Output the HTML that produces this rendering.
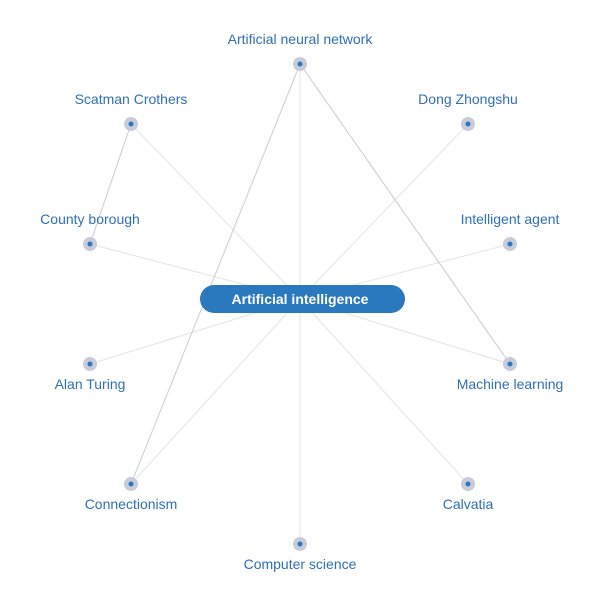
<!DOCTYPE html>
<html><head><style>body{margin:0;background:#fff}</style></head><body>
<svg width="616" height="597" xmlns="http://www.w3.org/2000/svg" font-family="Liberation Sans, sans-serif" font-size="14">
<g stroke="#e2e4ea" stroke-width="1">
<line x1="300" y1="299" x2="300" y2="64"/><line x1="300" y1="299" x2="131" y2="124"/><line x1="300" y1="299" x2="468" y2="124"/>
<line x1="300" y1="299" x2="90" y2="244"/><line x1="300" y1="299" x2="510" y2="244"/><line x1="300" y1="299" x2="90" y2="364"/>
<line x1="300" y1="299" x2="510" y2="364"/><line x1="300" y1="299" x2="131" y2="484"/><line x1="300" y1="299" x2="468" y2="484"/>
<line x1="300" y1="299" x2="300" y2="544"/>
</g>
<g stroke="#c9ccd4" stroke-width="1">
<line x1="300" y1="64" x2="131" y2="484"/><line x1="300" y1="64" x2="510" y2="364"/><line x1="131" y1="124" x2="90" y2="244"/>
</g>
<g fill="#c8ccd8"><circle cx="300" cy="64" r="7"/><circle cx="131" cy="124" r="7"/><circle cx="468" cy="124" r="7"/><circle cx="90" cy="244" r="7"/><circle cx="510" cy="244" r="7"/><circle cx="90" cy="364" r="7"/><circle cx="510" cy="364" r="7"/><circle cx="131" cy="484" r="7"/><circle cx="468" cy="484" r="7"/><circle cx="300" cy="544" r="7"/></g>
<g fill="#2a78c0"><circle cx="300" cy="64" r="2.5"/><circle cx="131" cy="124" r="2.5"/><circle cx="468" cy="124" r="2.5"/><circle cx="90" cy="244" r="2.5"/><circle cx="510" cy="244" r="2.5"/><circle cx="90" cy="364" r="2.5"/><circle cx="510" cy="364" r="2.5"/><circle cx="131" cy="484" r="2.5"/><circle cx="468" cy="484" r="2.5"/><circle cx="300" cy="544" r="2.5"/></g>
<g fill="#2f6fb5" text-anchor="middle">
<text x="300" y="44">Artificial neural network</text><text x="131" y="104">Scatman Crothers</text><text x="468" y="104">Dong Zhongshu</text>
<text x="90" y="224">County borough</text><text x="510" y="224">Intelligent agent</text><text x="90" y="389">Alan Turing</text>
<text x="510" y="389">Machine learning</text><text x="131" y="509">Connectionism</text><text x="468" y="509">Calvatia</text>
<text x="300" y="569">Computer science</text>
</g>
<rect x="200" y="285" width="205" height="28" rx="14" fill="#2a78bd"/>
<text x="300" y="304" text-anchor="middle" fill="#fff" font-weight="bold" font-size="14">Artificial intelligence</text>
</svg>
</body></html>
